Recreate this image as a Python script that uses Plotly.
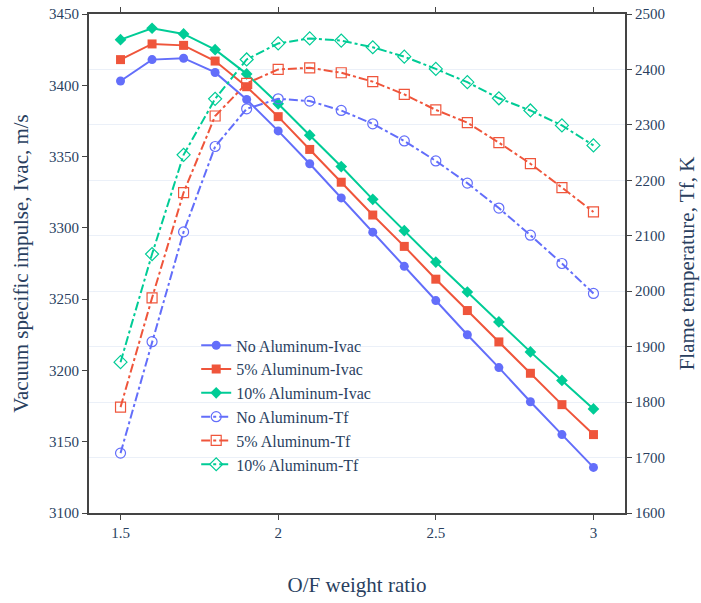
import plotly.graph_objects as go

# O/F weight ratio
of_ratio = [1.5, 1.6, 1.7, 1.8, 1.9, 2.0, 2.1, 2.2, 2.3, 2.4, 2.5, 2.6, 2.7, 2.8, 2.9, 3.0]

# Vacuum specific impulse, m/s
ivac_no_al = [3403, 3418, 3419, 3409, 3390, 3368, 3345, 3321, 3297, 3273, 3249, 3225, 3202, 3178, 3155, 3132]
ivac_5_al = [3418, 3429, 3428, 3417, 3399, 3378, 3355, 3332, 3309, 3287, 3264, 3242, 3220, 3198, 3176, 3155]
ivac_10_al = [3432, 3440, 3436, 3425, 3408, 3387, 3365, 3343, 3320, 3298, 3276, 3255, 3234, 3213, 3193, 3173]

# Flame temperature, K
tf_no_al = [1708, 1909, 2107, 2261, 2329, 2347, 2343, 2326, 2302, 2271, 2235, 2195, 2150, 2101, 2050, 1996]
tf_5_al = [1791, 1988, 2178, 2316, 2375, 2400, 2403, 2394, 2378, 2355, 2327, 2304, 2268, 2230, 2187, 2143]
tf_10_al = [1872, 2067, 2246, 2347, 2418, 2447, 2456, 2452, 2440, 2423, 2401, 2377, 2348, 2326, 2299, 2263]

colors = ["#636efa", "#EF553B", "#00cc96"]
serif = "Liberation Serif"

fig = go.Figure()

ivac_sets = [
    ("No Aluminum-Ivac", ivac_no_al, "circle"),
    ("5% Aluminum-Ivac", ivac_5_al, "square"),
    ("10% Aluminum-Ivac", ivac_10_al, "diamond"),
]
for (name, ys, sym), c in zip(ivac_sets, colors):
    fig.add_trace(go.Scatter(
        x=of_ratio, y=ys, name=name, mode="lines+markers",
        line=dict(color=c, width=2),
        marker=dict(symbol=sym, size=9, color=c),
    ))

tf_sets = [
    ("No Aluminum-Tf", tf_no_al, "circle-open"),
    ("5% Aluminum-Tf", tf_5_al, "square-open"),
    ("10% Aluminum-Tf", tf_10_al, "diamond-open"),
]
for (name, ys, sym), c in zip(tf_sets, colors):
    fig.add_trace(go.Scatter(
        x=of_ratio, y=ys, name=name, mode="lines+markers", yaxis="y2",
        line=dict(color=c, width=2, dash="dashdot"),
        marker=dict(symbol=sym, size=10, color=c, line=dict(width=1.2, color=c)),
    ))

axis_font = dict(family=serif, size=15, color="#2a3f5f")
title_font = dict(family=serif, size=21, color="#2a3f5f")

fig.update_layout(
    template="plotly_white",
    width=701, height=603,
    margin=dict(l=89, r=76, t=14, b=90, autoexpand=False),
    font=dict(family=serif, color="#2a3f5f"),
    showlegend=True,
    legend=dict(
        x=0.2, y=0.37, xanchor="left", yanchor="top",
        bgcolor="rgba(0,0,0,0)",
        font=dict(family=serif, size=16, color="#2a3f5f"),
        tracegroupgap=0,
    ),
    xaxis=dict(
        title=dict(text="O/F weight ratio", font=title_font, standoff=37),
        range=[1.4, 3.1],
        tickvals=[1.5, 2, 2.5, 3], ticktext=["1.5", "2", "2.5", "3"],
        showgrid=False, zeroline=False, automargin=False,
        showline=True, linecolor="#444", linewidth=2, mirror="ticks",
        ticks="outside", ticklen=5, tickcolor="#444",
        tickfont=axis_font,
    ),
    yaxis=dict(
        title=dict(text="Vacuum specific impulse, Ivac, m/s", font=title_font),
        range=[3100, 3450], dtick=50,
        showgrid=False, zeroline=False, automargin=False,
        showline=True, linecolor="#444", linewidth=2,
        ticks="outside", ticklen=5, tickcolor="#444",
        tickfont=axis_font,
    ),
    yaxis2=dict(
        title=dict(text="Flame temperature, Tf, K", font=title_font),
        range=[1600, 2500], dtick=100,
        overlaying="y", side="right",
        showgrid=True, gridcolor="#EBF0F8", zeroline=False, automargin=False,
        showline=True, linecolor="#444", linewidth=2,
        ticks="outside", ticklen=5, tickcolor="#444",
        tickfont=axis_font,
    ),
)

fig.write_html("out.html")
